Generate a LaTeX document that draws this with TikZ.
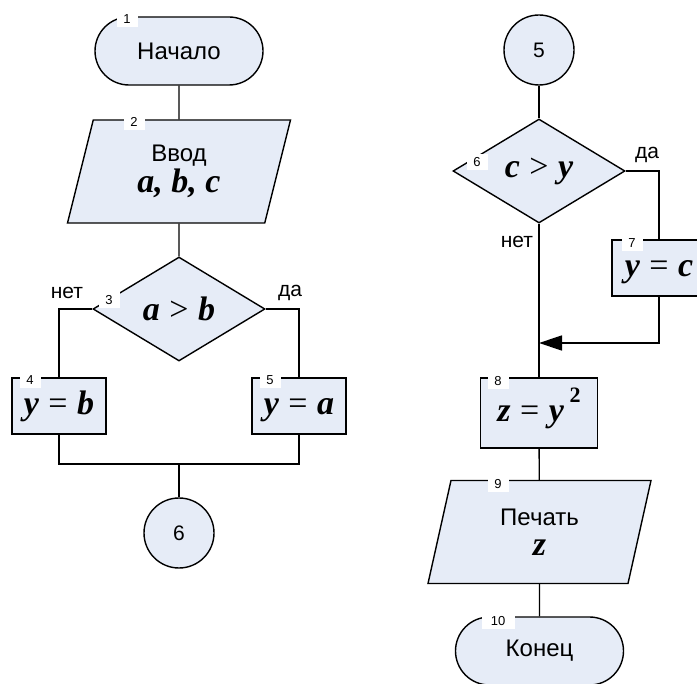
\documentclass[tikz,border=0pt]{standalone}
\usepackage{fontspec}
\setmainfont{Liberation Sans}
\newfontfamily\tnr{Liberation Serif}
\usetikzlibrary{shapes.geometric,arrows.meta}
\definecolor{blockfill}{RGB}{230,236,247}
\newcommand{\mvar}[1]{{\tnr\bfseries\itshape #1}}
\newcommand{\mop}[1]{{\tnr #1}}

\begin{document}
\begin{tikzpicture}[x=0.5pt,y=-0.5pt,
    every node/.style={font=\fontsize{10.5}{12}\selectfont},
    block/.style={draw,fill=blockfill,line width=0.7pt,inner sep=0pt},
    term/.style={block,rectangle,rounded corners=17pt,minimum width=84pt,minimum height=34pt,
      font=\fontsize{12}{14}\selectfont},
    io/.style={block,trapezium,trapezium left angle=63.7,trapezium right angle=116.3,
      trapezium stretches body,minimum width=111.5pt,minimum height=51.5pt,align=center,
      font=\fontsize{12}{14}\selectfont},
    cond/.style={block,diamond,aspect=1.65,minimum width=86pt,minimum height=52pt},
    proc/.style={block,rectangle,minimum width=47pt,minimum height=28pt,
      text height=12pt,text depth=3pt},
    conn/.style={block,circle,minimum size=35pt},
    num/.style={fill=white,inner sep=0pt,minimum width=10.5pt,minimum height=8pt,
      font=\fontsize{6.5}{7}\selectfont},
    big/.style={font=\fontsize{17}{19}\selectfont},
    line/.style={line width=0.7pt}]
    \useasboundingbox (0,0) rectangle (697,684);

    % left column
    \node[term] (start) at (179,51) {Начало};
    \node[io] (in) at (179,171.5) {Ввод\\[0pt]{\fontsize{17}{19}\selectfont\mvar{a, b, c}}};
    \node[cond,big] (cmp1) at (179,309) {\mvar{a} \mop{>} \mvar{b}};
    \node[proc,big] (yb) at (59,406) {\mvar{y} \mop{=} \mvar{b}};
    \node[proc,big] (ya) at (299,406) {\mvar{y} \mop{=} \mvar{a}};
    \node[conn] (c6) at (179,533) {6};
    \coordinate (j1) at (179,464);

    \node (no1) at (67,293) {нет};
    \node (yes1) at (290,293) {да};

    \draw[line] (start) -- (in);
    \draw[line] (in) -- (cmp1);
    \draw[line] (cmp1.west) -| (yb.north);
    \draw[line] (cmp1.east) -| (ya.north);
    \draw[line] (yb.south) |- (j1) -| (ya.south);
    \draw[line] (j1) -- (c6);

    % right column
    \node[conn] (c5) at (539,50) {5};
    \node[cond,big] (cmp2) at (539,171) {\mvar{c} \mop{>} \mvar{y}};
    \node[proc,big] (yc) at (659,268) {\mvar{y} \mop{=} \mvar{c}};
    \node[proc,big,minimum width=58.5pt,minimum height=35pt] (sq) at (539,413)
      {\mvar{z} \mop{=} \mvar{y}\,\raisebox{1.1ex}{\fontsize{11}{12}\selectfont\tnr\bfseries 2}};
    \node[io] (out) at (539.5,532) {Печать\\[1pt]{\fontsize{17}{19}\selectfont\mvar{z}}};
    \node[term] (stop) at (539.5,651) {Конец};
    \coordinate (j2) at (539,343);

    \node (yes2) at (647,155) {да};
    \node (no2) at (517,242) {нет};

    \draw[line] (c5) -- (cmp2);
    \draw[line] (cmp2.east) -| (yc.north);
    \draw[line] (cmp2) -- (sq);
    \draw[line,-{Triangle[length=11.5pt,width=7.5pt]}] (yc.south) |- (j2);
    \draw[line] (sq) -- (out);
    \draw[line] (out) -- (stop);

    % block numbers
    \node[num] (n1) at (127,19) {1};
    \node[num] (n2) at (134,122) {2};
    \node[num] (n3) at (109,300) {3};
    \node[num] (n4) at (30,380) {4};
    \node[num] (n5) at (270,380) {5};
    \node[num] (n6) at (477,162) {6};
    \node[num] (n7) at (632,243) {7};
    \node[num] (n8) at (498,381) {8};
    \node[num] (n9) at (498,484) {9};
    \node[num,minimum width=16.5pt] (n10) at (498,621) {10};
\end{tikzpicture}
\end{document}
